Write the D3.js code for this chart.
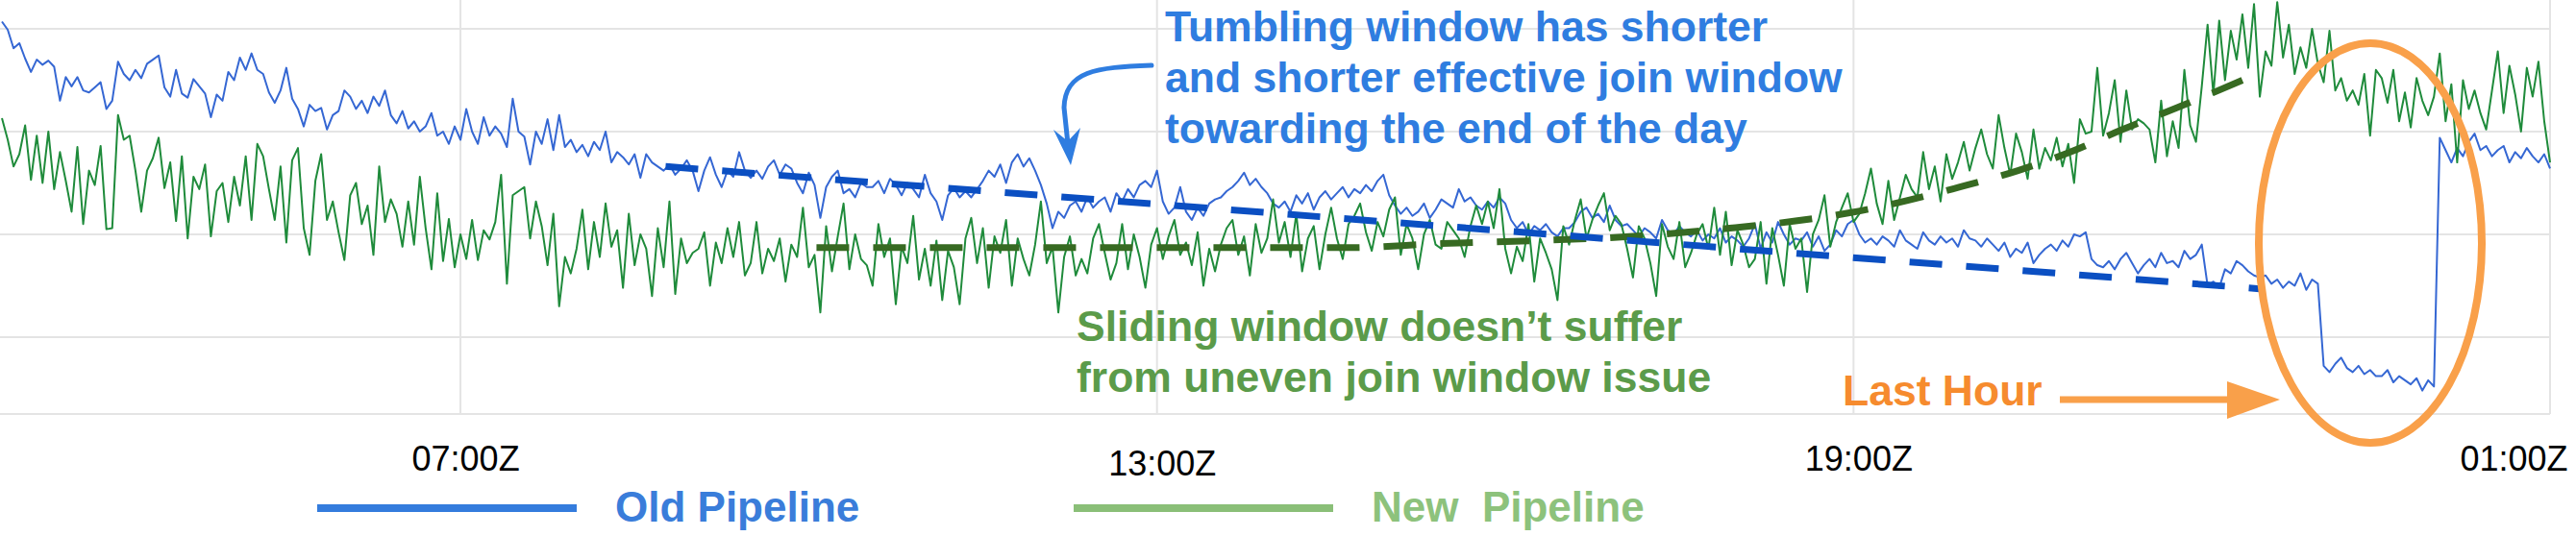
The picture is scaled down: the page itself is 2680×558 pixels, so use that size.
<!DOCTYPE html>
<html>
<head>
<meta charset="utf-8">
<script src="https://cdn.jsdelivr.net/npm/d3@7"></script>
<style>
  body { margin: 0; background: #fff; }
  svg { display: block; }
</style>
</head>
<body>
<svg id="chart" width="2680" height="558"></svg>
<script>
var seriesStart = '2019-06-10T03:03Z'
var stepMinutes = 3

var oldPipeline = [
  407, 399, 381, 386, 371, 358, 370, 365, 369, 363,
  330, 353, 344, 353, 340, 338, 343, 348, 322, 330,
  368, 356, 350, 360, 352, 366, 370, 374, 343, 334,
  360, 337, 333, 351, 344, 337, 314, 336, 330, 358,
  350, 372, 360, 376, 360, 356, 338, 328, 340, 362,
  332, 322, 305, 326, 320, 323, 302, 316, 320, 340,
  334, 322, 330, 318, 334, 325, 340, 316, 308, 320,
  303, 310, 300, 305, 318, 296, 300, 288, 305, 292,
  322, 300, 288, 314, 296, 305, 298, 285, 332, 300,
  295, 268, 300, 288, 312, 282, 316, 285, 292, 280,
  287, 276, 290, 282, 300, 270, 280, 275, 268, 278,
  255, 278, 270, 266, 262, 268, 258, 264, 272, 262,
  242, 262, 275, 258, 246, 262, 256, 280, 262, 255,
  262, 254, 266, 272, 258, 268, 264, 250, 240, 260,
  248, 216, 246, 256, 262, 240, 244, 236, 250, 246,
  246, 252, 240, 254, 248, 238, 250, 244, 236, 258,
  240, 232, 214, 238, 245, 236, 242, 236, 244, 252,
  262, 256, 268, 250, 270, 278, 266, 274, 262, 248,
  230, 206, 222, 216, 228, 232, 222, 236, 226, 232,
  236, 222, 240, 232, 244, 236, 248, 252, 246, 262,
  232, 220, 226, 246, 222, 214, 226, 218, 230, 234,
  236, 242, 246, 252, 260, 248, 254, 246, 240, 230,
  226, 232, 222, 238, 230, 240, 224, 236, 242, 234,
  240, 246, 236, 244, 240, 248, 242, 252, 258, 238,
  228, 220, 226, 218, 222, 230, 216, 224, 234, 230,
  226, 244, 232, 236, 228, 224, 232, 226, 236, 230,
  214, 206, 212, 200, 208, 204, 210, 202, 198, 206,
  206, 212, 222, 226, 216, 220, 212, 228, 214, 208,
  210, 204, 198, 206, 202, 196, 214, 204, 200, 208,
  202, 198, 204, 194, 200, 196, 206, 192, 198, 194,
  188, 196, 210, 186, 202, 192, 212, 200, 190, 196,
  194, 202, 188, 198, 184, 190, 204, 198, 210, 214,
  200, 192, 196, 190, 198, 194, 188, 204, 194, 190,
  186, 202, 194, 190, 198, 192, 196, 188, 204, 196,
  194, 188, 196, 190, 184, 192, 178, 186, 182, 192,
  172, 180, 186, 190, 184, 194, 188, 200, 198, 202,
  176, 170, 168, 174, 166, 176, 182, 172, 162, 170,
  176, 168, 182, 172, 174, 168, 184, 176, 180, 190,
  150, 154, 148, 166, 162, 174, 170, 164, 160, 158,
  160, 152, 156, 148, 154, 150, 162, 146, 156, 152,
  72, 66, 74, 80, 70, 66, 72, 64, 68, 62,
  62, 68, 56, 62, 58, 54, 60, 48, 58, 52,
  294, 282, 270, 284, 276, 290, 298, 282, 286, 276,
  282, 286, 270, 280, 274, 284, 276, 270, 278, 264
]

var newPipeline = [
  313, 292, 266, 278, 306, 253, 296, 250, 300, 244,
  280, 252, 222, 285, 210, 262, 248, 286, 205, 206,
  316, 292, 296, 262, 222, 262, 274, 294, 245, 270,
  213, 276, 196, 256, 244, 268, 198, 242, 250, 212,
  256, 228, 276, 214, 288, 276, 244, 214, 266, 192,
  272, 284, 206, 180, 252, 278, 214, 232, 202, 175,
  238, 250, 210, 228, 180, 266, 212, 234, 220, 188,
  232, 190, 256, 206, 166, 240, 174, 215, 168, 200,
  176, 214, 175, 204, 195, 212, 258, 152, 238, 242,
  246, 196, 232, 208, 170, 220, 130, 178, 162, 186,
  224, 166, 212, 178, 230, 188, 204, 148, 220, 170,
  200, 186, 140, 206, 168, 232, 142, 196, 172, 182,
  186, 202, 150, 192, 172, 206, 178, 212, 160, 172,
  212, 162, 186, 174, 196, 154, 190, 178, 226, 168,
  180, 124, 208, 164, 198, 230, 166, 200, 176, 170,
  150, 210, 178, 196, 132, 188, 172, 218, 156, 186,
  150, 194, 136, 184, 168, 132, 196, 216, 172, 206,
  148, 198, 182, 214, 150, 196, 176, 160, 190, 232,
  172, 188, 124, 178, 198, 160, 176, 162, 196, 210,
  182, 156, 172, 210, 166, 200, 178, 148, 190, 206,
  176, 198, 214, 180, 192, 170, 202, 150, 186, 164,
  190, 206, 214, 180, 198, 160, 210, 182, 196, 234,
  192, 212, 178, 220, 164, 196, 208, 166, 200, 226,
  196, 176, 210, 218, 230, 202, 184, 212, 198, 224,
  236, 180, 210, 196, 166, 200, 214, 190, 186, 212,
  204, 196, 178, 208, 228, 210, 232, 206, 244, 186,
  162, 188, 174, 210, 154, 196, 182, 166, 136, 208,
  190, 214, 234, 196, 214, 228, 240, 204, 218, 210,
  186, 158, 208, 196, 172, 140, 210, 188, 176, 212,
  168, 182, 200, 210, 186, 226, 180, 222, 170, 204,
  190, 168, 176, 212, 152, 206, 180, 150, 210, 186,
  196, 144, 200, 214, 238, 188, 212, 226, 240, 212,
  220, 240, 264, 230, 210, 252, 214, 236, 258, 244,
  236, 280, 244, 266, 232, 278, 254, 270, 290, 262,
  284, 302, 278, 264, 316, 284, 258, 298, 280, 254,
  302, 264, 284, 272, 294, 266, 288, 250, 312, 298,
  300, 362, 296, 318, 350, 290, 340, 302, 312, 308,
  302, 270, 330, 276, 310, 284, 360, 306, 290, 344,
  404, 336, 408, 350, 398, 370, 414, 362, 424, 334,
  378, 364, 426, 372, 404, 356, 382, 362, 400, 366,
  348, 398, 340, 352, 330, 340, 326, 356, 296, 360,
  352, 328, 360, 310, 338, 304, 352, 330, 316, 334,
  376, 310, 346, 270, 350, 322, 340, 318, 302, 340,
  378, 318, 364, 336, 300, 362, 334, 368, 310, 270
]

// hand drawn trend lines on top of the screenshot
var oldTrendTimes = ['2019-06-10T08:46Z', '2019-06-10T22:30Z']
var oldTrendValues = [266, 147]
var newTrendTimes = ['2019-06-10T10:04Z', '2019-06-10T14:37Z', '2019-06-10T15:27Z', '2019-06-10T16:16Z',
                     '2019-06-10T17:06Z', '2019-06-10T17:56Z', '2019-06-10T18:30Z', '2019-06-10T18:58Z',
                     '2019-06-10T19:28Z', '2019-06-10T19:55Z', '2019-06-10T20:25Z', '2019-06-10T20:52Z',
                     '2019-06-10T21:19Z', '2019-06-10T21:47Z', '2019-06-10T22:21Z']
var newTrendValues = [187, 187, 191, 194, 198, 206, 213, 221, 233, 246, 262, 280, 302, 323, 350]

var tickTimes = ['2019-06-10T07:00Z', '2019-06-10T13:00Z', '2019-06-10T19:00Z', '2019-06-11T01:00Z']
var gridValues = [100, 200, 300, 400]
var legendNames = ['Old Pipeline', 'New  Pipeline']

var fontStack = '"Liberation Sans", Arial, Helvetica, sans-serif'
var parse = d3.utcParse('%Y-%m-%dT%H:%MZ')
var t0 = parse(seriesStart)

function timeAt(i) { return d3.utcMinute.offset(t0, i * stepMinutes) }

var svg = d3.select('#chart').attr('font-family', fontStack)

var x = d3.scaleUtc()
          .domain([parse('2019-06-10T03:02Z'), parse('2019-06-11T01:00Z')])
          .range([0, 2653])
var y = d3.scaleLinear().domain([25.2, 428]).range([431, 0])

var grid = svg.append('g').attr('stroke', '#e4e4e4').attr('stroke-width', 2)

grid.selectAll('.h')
  .data(gridValues.concat([y.domain()[0]]))
  .enter().append('line')
  .attr('x1', 0).attr('x2', x.range()[1])
  .attr('y1', y).attr('y2', y)

grid.selectAll('.v')
  .data(tickTimes.map(parse))
  .enter().append('line')
  .attr('x1', x).attr('x2', x)
  .attr('y1', y.range()[1]).attr('y2', y.range()[0])

var series = d3.line()
               .x(function (d, i) { return x(timeAt(i)) })
               .y(function (d) { return y(d) })

svg.append('path')
  .datum(oldPipeline)
  .attr('d', series)
  .attr('fill', 'none')
  .attr('stroke', '#3567d3')
  .attr('stroke-width', 2)
  .attr('stroke-linejoin', 'round')

svg.append('path')
  .datum(newPipeline)
  .attr('d', series)
  .attr('fill', 'none')
  .attr('stroke', '#1f8b3b')
  .attr('stroke-width', 2)
  .attr('stroke-linejoin', 'round')

var trend = d3.line()
              .curve(d3.curveMonotoneX)
              .x(function (d) { return x(parse(d[0])) })
              .y(function (d) { return y(d[1]) })

svg.append('path')
  .datum(d3.zip(newTrendTimes, newTrendValues))
  .attr('d', trend)
  .attr('fill', 'none')
  .attr('stroke', '#376a22')
  .attr('stroke-width', 7)
  .attr('stroke-dasharray', '34,25')

svg.append('path')
  .datum(d3.zip(oldTrendTimes, oldTrendValues))
  .attr('d', trend)
  .attr('fill', 'none')
  .attr('stroke', '#0b4fc2')
  .attr('stroke-width', 7)
  .attr('stroke-dasharray', '34,25')

var axis = d3.axisBottom(x)
             .tickValues(tickTimes.map(parse))
             .tickFormat(d3.utcFormat('%H:%MZ'))
             .tickSize(0)

var ax = svg.append('g')
  .attr('transform', 'translate(0,' + y.range()[0] + ')')
  .call(axis)

ax.attr('font-family', fontStack).attr('font-size', 36)
ax.select('.domain').remove()
ax.selectAll('text')
  .attr('fill', '#000')
  .attr('y', function (d, i) { return i === 1 ? 64 : 59 })
  .attr('dy', 0)
  .attr('dx', 5)
ax.selectAll('.tick:last-of-type text')
  .attr('text-anchor', 'end')
  .attr('dx', 18)

// legend
var legendLine = ['#347cdd', '#8abf78']
var legendText = ['#3a7dda', '#8dc27c']

var legend = svg.selectAll('.legend')
  .data(legendNames)
  .enter().append('g')
  .attr('transform', function (d, i) { return 'translate(' + (330 + i * 787) + ',529)' })

legend.append('line')
  .attr('x1', 0).attr('x2', 270)
  .attr('stroke', function (d, i) { return legendLine[i] })
  .attr('stroke-width', 8)

legend.append('text')
  .attr('x', 310).attr('y', 14)
  .attr('font-size', 44)
  .attr('font-weight', 'bold')
  .style('white-space', 'pre')
  .attr('fill', function (d, i) { return legendText[i] })
  .text(function (d) { return d })

// annotations
function note(lines, x0, y0, color) {
  var t = svg.append('text')
             .attr('font-size', 44.5)
             .attr('font-weight', 'bold')
             .attr('fill', color)
  t.selectAll('tspan')
    .data(lines)
    .enter().append('tspan')
    .attr('x', x0)
    .attr('y', function (d, i) { return y0 + i * 53 })
    .text(function (d) { return d })
}

note(['Tumbling window has shorter',
      'and shorter effective join window',
      'towarding the end of the day'], 1212, 43, '#2f7de0')

note(['Sliding window doesn\u2019t suffer',
      'from uneven join window issue'], 1120, 355, '#5b9b4a')

note(['Last Hour'], 1917, 422, '#f68b2e')

svg.append('path')
  .attr('d', 'M1198,68 C1140,70 1108,74 1107,112 L1111,150')
  .attr('fill', 'none')
  .attr('stroke', '#2f7de0')
  .attr('stroke-width', 5)
  .attr('stroke-linecap', 'round')

svg.append('path')
  .attr('d', 'M1096,135 L1114,172 L1124,133 L1111,147 Z')
  .attr('fill', '#2f7de0')

svg.append('line')
  .attr('x1', 2143).attr('x2', 2320)
  .attr('y1', 416).attr('y2', 416)
  .attr('stroke', '#f9a04a')
  .attr('stroke-width', 7)

svg.append('path')
  .attr('d', 'M2317,397 L2372,416 L2317,436 Z')
  .attr('fill', '#f9a04a')

svg.append('ellipse')
  .attr('cx', 2466).attr('cy', 253)
  .attr('rx', 116).attr('ry', 208)
  .attr('fill', 'none')
  .attr('stroke', '#f9a04a')
  .attr('stroke-width', 8)
</script>
</body>
</html>
